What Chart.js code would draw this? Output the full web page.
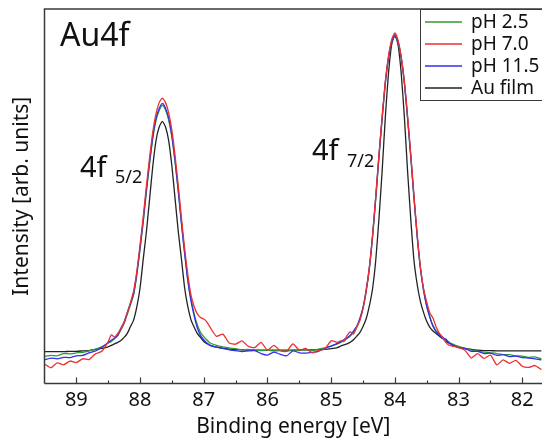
<!DOCTYPE html>
<html>
<head>
<meta charset="utf-8">
<script src="https://cdn.jsdelivr.net/npm/chart.js@4.4.0/dist/chart.umd.min.js"></script>
<style>
  html, body { margin: 0; padding: 0; background: #fff; }
  canvas { display: block; }
</style>
</head>
<body>
<canvas id="xps" width="542" height="438"></canvas>
<script>
// Binding energy grid (eV), finer around the two peaks
const energia = [
  89.5, 89.4, 89.3, 89.2, 89.1, 89.0, 88.9, 88.8, 88.7, 88.6, 88.5,
  88.45, 88.4, 88.35, 88.3, 88.25, 88.2, 88.15, 88.1, 88.05, 88.0,
  87.95, 87.9, 87.85, 87.8, 87.75, 87.7, 87.65, 87.6, 87.55, 87.5,
  87.45, 87.4, 87.35, 87.3, 87.25, 87.2, 87.15, 87.1, 87.05, 87.0, 86.95,
  86.9, 86.8, 86.7, 86.6, 86.5, 86.4, 86.3, 86.2, 86.1, 86.0,
  85.9, 85.8, 85.7, 85.6, 85.5, 85.4, 85.3, 85.2, 85.1, 85.0, 84.9,
  84.85, 84.8, 84.75, 84.7, 84.65, 84.6, 84.55, 84.5, 84.45, 84.4,
  84.35, 84.3, 84.25, 84.2, 84.15, 84.1, 84.05, 84.0, 83.95, 83.9,
  83.85, 83.8, 83.75, 83.7, 83.65, 83.6, 83.55, 83.5, 83.45, 83.4,
  83.35, 83.3, 83.25, 83.2, 83.15,
  83.1, 83.0, 82.9, 82.8, 82.7, 82.6, 82.5, 82.4, 82.3, 82.2, 82.1, 82.0, 81.9, 81.8, 81.7
];

// Intensities (arb. units, 0-100 full frame)
const ph25 = [
  7.2, 7.5, 7.4, 8.0, 7.9, 8.2, 8.3, 8.7, 9.2, 9.8, 10.8,
  11.2, 12.0, 12.8, 14.3, 16.0, 18.5, 21.0, 23.8, 29.0, 35.8,
  43.0, 51.2, 58.7, 65.4, 70.2, 72.9, 74.3, 73.0, 70.3, 65.8,
  59.2, 51.4, 42.9, 35.0, 27.8, 22.5, 18.6, 15.6, 13.6, 12.5, 11.6,
  10.8, 10.2, 9.8, 9.5, 9.3, 9.0, 9.1, 8.9, 8.8, 8.9,
  8.7, 8.8, 8.6, 8.9, 8.8, 9.0, 8.8, 9.2, 9.5, 10.0, 10.6,
  11.0, 11.4, 12.0, 12.7, 13.7, 14.9, 17.0, 20.0, 24.6, 30.6,
  39.0, 49.2, 60.2, 70.5, 80.0, 86.8, 91.1, 92.8, 91.1, 86.8,
  80.1, 70.7, 60.5, 49.5, 39.4, 31.0, 25.0, 20.8, 17.8, 15.5,
  14.0, 13.1, 12.4, 11.7, 11.1,
  10.6, 9.9, 9.3, 8.9, 8.6, 8.4, 8.2, 8.0, 7.7, 7.7, 7.4, 7.3, 7.0, 7.1, 6.6
];
const ph70 = [
  5.2, 4.2, 5.5, 5.0, 6.0, 5.6, 6.6, 6.4, 7.9, 8.6, 11.2,
  13.0, 12.4, 13.4, 14.6, 16.3, 18.8, 21.6, 24.8, 30.0, 37.0,
  44.5, 52.8, 60.3, 67.2, 72.0, 75.0, 76.2, 75.0, 72.2, 67.6,
  60.8, 52.8, 44.2, 36.0, 29.0, 23.6, 20.5, 18.6, 17.6, 17.2, 16.4,
  15.0, 12.6, 13.2, 10.8, 10.5, 11.4, 9.9, 9.6, 11.0, 8.9,
  10.2, 8.8, 8.6, 10.6, 8.9, 9.4, 8.2, 8.8, 9.2, 11.4, 11.0,
  11.4, 11.2, 12.8, 13.8, 13.2, 15.0, 16.8, 20.0, 24.8, 31.0,
  39.6, 50.0, 61.0, 71.2, 80.6, 87.4, 91.8, 93.6, 91.6, 87.2,
  80.6, 71.4, 61.2, 50.2, 40.0, 31.2, 25.4, 21.8, 18.8, 17.4,
  15.0, 13.4, 12.4, 11.0, 10.2,
  10.0, 9.6, 8.9, 6.8, 8.0, 6.7, 7.6, 5.0, 6.3, 5.4, 6.2, 4.6, 4.3, 4.8, 3.7
];
const ph115 = [
  6.3, 6.8, 6.6, 7.0, 6.9, 7.4, 7.5, 8.2, 8.7, 9.7, 10.9,
  11.6, 12.1, 12.9, 14.8, 16.5, 19.0, 21.5, 24.1, 29.5, 36.3,
  43.7, 51.8, 59.3, 66.0, 70.7, 73.4, 74.8, 73.5, 70.8, 66.1,
  59.4, 51.4, 42.7, 34.7, 27.4, 22.0, 18.0, 14.8, 12.8, 11.7, 10.8,
  10.2, 9.7, 9.4, 9.0, 8.8, 8.5, 8.7, 8.8, 8.0, 7.6,
  8.4, 7.8, 7.4, 8.7, 8.2, 8.1, 8.3, 8.6, 9.4, 10.0, 10.7,
  11.1, 11.7, 12.2, 12.9, 14.0, 15.2, 17.4, 20.3, 25.0, 31.0,
  39.5, 49.7, 60.7, 70.9, 80.3, 87.0, 91.3, 93.0, 91.3, 87.0,
  80.3, 70.9, 60.7, 49.7, 39.5, 31.0, 25.0, 20.6, 17.6, 15.2,
  13.8, 13.0, 12.0, 11.9, 10.8,
  10.4, 9.6, 9.4, 8.6, 8.6, 8.0, 8.1, 7.5, 7.7, 7.2, 7.3, 6.9, 6.8, 6.6, 6.3
];
const auFilme = [
  8.5, 8.5, 8.5, 8.5, 8.6, 8.6, 8.7, 8.8, 9.1, 9.4, 9.8,
  10.2, 10.6, 11.0, 11.5, 12.3, 13.4, 15.2, 17.0, 20.5, 25.5,
  33.2, 40.6, 49.3, 58.0, 64.8, 68.5, 70.0, 68.5, 64.8, 58.0,
  49.3, 40.6, 33.2, 25.5, 20.5, 17.0, 15.0, 13.3, 12.3, 11.2, 10.6,
  10.2, 9.7, 9.4, 9.2, 9.05, 9.0, 8.9, 8.9, 8.9, 8.85,
  8.9, 8.9, 8.9, 8.9, 8.95, 9.0, 9.0, 9.0, 9.1, 9.3, 9.6,
  10.0, 10.3, 10.6, 11.0, 11.7, 12.6, 13.6, 15.2, 17.3, 20.7,
  25.3, 32.9, 43.9, 56.6, 71.0, 82.8, 90.5, 93.0, 90.5, 82.8,
  71.0, 56.6, 43.9, 32.9, 26.5, 22.0, 19.0, 16.6, 15.0, 14.0,
  13.3, 12.6, 12.0, 11.3, 10.8,
  10.3, 9.7, 9.4, 9.1, 8.9, 8.8, 8.8, 8.7, 8.7, 8.7, 8.7, 8.7, 8.7, 8.7, 8.7
];

const rotulos = ['pH 2.5', 'pH 7.0', 'pH 11.5', 'Au film'];
const ticksMaiores = [82, 83, 84, 85, 86, 87, 88, 89];
const ticksMenores = [82.5, 83.5, 84.5, 85.5, 86.5, 87.5, 88.5];

const FONTE = '"Noto Sans", "DejaVu Sans", sans-serif';
Chart.defaults.font.family = FONTE;
Chart.defaults.color = '#111';

function pontos(valores) {
    return energia.map((e, i) => ({ x: e, y: valores[i] }));
}

// moldura + ticks para dentro
const molduraPlugin = {
    id: 'moldura',
    afterDatasetsDraw(chart) {
        const { ctx, chartArea: a, scales: { x } } = chart;
        ctx.save();
        ctx.strokeStyle = '#3a3a3a';
        ctx.lineWidth = 1.5;
        ctx.beginPath();
        ctx.moveTo(a.left, a.bottom);
        ctx.lineTo(a.left, a.top);
        ctx.lineTo(a.right + 2, a.top);
        ctx.moveTo(a.left, a.bottom);
        ctx.lineTo(a.right + 2, a.bottom);
        ctx.stroke();

        ctx.lineWidth = 1.2;
        ctx.beginPath();
        ticksMaiores.forEach(v => {
            const px = Math.round(x.getPixelForValue(v)) + 0.5;
            ctx.moveTo(px, a.bottom);
            ctx.lineTo(px, a.bottom - 6);
        });
        ticksMenores.forEach(v => {
            const px = Math.round(x.getPixelForValue(v)) + 0.5;
            ctx.moveTo(px, a.bottom);
            ctx.lineTo(px, a.bottom - 3);
        });
        ctx.stroke();
        ctx.restore();
    }
};

// legenda dentro do grafico, canto superior direito
const legendaPlugin = {
    id: 'legendaInterna',
    afterDraw(chart) {
        const { ctx, chartArea: a } = chart;
        ctx.save();
        ctx.fillStyle = '#fff';
        ctx.fillRect(420, a.top, 130, 91);
        ctx.strokeStyle = '#3a3a3a';
        ctx.lineWidth = 1;
        ctx.strokeRect(420.5, a.top + 0.5, 130, 91);
        ctx.font = '19px ' + FONTE;
        ctx.textBaseline = 'middle';
        chart.data.datasets.forEach((ds, i) => {
            const y = 22 + i * 22;
            ctx.strokeStyle = ds.borderColor;
            ctx.lineWidth = 1.3;
            ctx.beginPath();
            ctx.moveTo(425, y);
            ctx.lineTo(462, y);
            ctx.stroke();
            ctx.fillStyle = '#111';
            ctx.fillText(ds.label, 471, y + 1);
        });
        ctx.restore();
    }
};

// textos: Au4f e nomes dos picos
const textosPlugin = {
    id: 'textos',
    afterDraw(chart) {
        const ctx = chart.ctx;
        ctx.save();
        ctx.fillStyle = '#111';
        ctx.textBaseline = 'alphabetic';
        ctx.font = '32px ' + FONTE;
        ctx.fillText('Au4f', 60, 46);
        ctx.font = '29px ' + FONTE;
        ctx.fillText('4f', 80, 177);
        ctx.fillText('4f', 312, 160);
        ctx.font = '18px ' + FONTE;
        ctx.fillText('5/2', 115, 183);
        ctx.fillText('7/2', 347, 167);
        ctx.restore();
    }
};

const cores = ['#2f9a2f', '#ec2f2f', '#2f2fee', '#222222'];
const valores = [ph25, ph70, ph115, auFilme];
const ordem = [2, 0, 1, 3];

new Chart(document.getElementById('xps'), {
    type: 'line',
    data: {
        datasets: valores.map((v, i) => ({
            label: rotulos[i],
            data: pontos(v),
            borderColor: cores[i],
            backgroundColor: cores[i],
            borderWidth: 1.3,
            pointRadius: 0,
            tension: 0.2,
            fill: false,
            order: ordem[i]
        }))
    },
    options: {
        responsive: false,
        animation: false,
        devicePixelRatio: 1,
        layout: { padding: { top: 9, right: 0, left: 0, bottom: 0 } },
        plugins: {
            legend: { display: false },
            tooltip: { enabled: false }
        },
        scales: {
            x: {
                type: 'linear',
                reverse: true,
                min: 81.69,
                max: 89.5,
                afterBuildTicks: s => { s.ticks = ticksMaiores.map(v => ({ value: v })); },
                grid: { display: false, drawTicks: false },
                border: { display: false },
                ticks: { font: { size: 20, lineHeight: 1 }, padding: 6.75, color: '#111', maxRotation: 0, autoSkip: false },
                title: {
                    display: true,
                    text: 'Binding energy [eV]',
                    font: { size: 21, lineHeight: 1 },
                    color: '#111',
                    padding: { top: 0, bottom: 0 }
                }
            },
            y: {
                min: 0,
                max: 100,
                ticks: { display: false },
                grid: { display: false, drawTicks: false },
                border: { display: false },
                title: {
                    display: true,
                    text: 'Intensity [arb. units]',
                    font: { size: 21, lineHeight: 1 },
                    color: '#111',
                    padding: { top: 11.5, bottom: 12 }
                }
            }
        }
    },
    plugins: [molduraPlugin, legendaPlugin, textosPlugin]
});
</script>
</body>
</html>
